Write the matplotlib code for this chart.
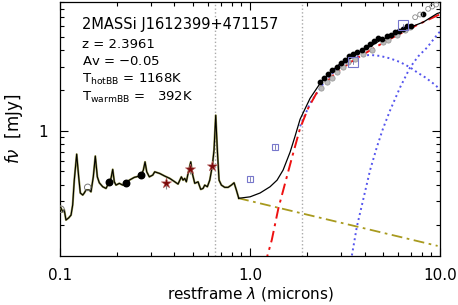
import matplotlib
matplotlib.use('Agg')
import matplotlib.pyplot as plt
import numpy as np

# template spectrum (restframe microns, mJy)
spec_wave = [0.100, 0.1012, 0.1033, 0.1053, 0.1075, 0.1111, 0.1143, 0.1166, 0.1189, 0.1224,
             0.1254, 0.1279, 0.1317, 0.1342, 0.1370, 0.1426, 0.1456, 0.1497, 0.1534, 0.1572,
             0.1610, 0.1678, 0.1746, 0.1818, 0.1856, 0.1894, 0.1931, 0.1971, 0.2051, 0.2138,
             0.2226, 0.2316, 0.2460, 0.2615, 0.2668, 0.2745, 0.2802, 0.2860, 0.2951, 0.3076,
             0.3150, 0.3347, 0.3556, 0.3779, 0.4016, 0.4179, 0.4350, 0.4440, 0.4532, 0.4621,
             0.4718, 0.4875, 0.4970, 0.5116, 0.5325, 0.5501, 0.5657, 0.5775, 0.5960, 0.6137,
             0.6331, 0.6462, 0.6597, 0.6727, 0.6868, 0.7064, 0.7358, 0.7660, 0.7974, 0.8236,
             0.8470, 0.8720]
spec_flux = [0.274, 0.268, 0.251, 0.259, 0.218, 0.226, 0.237, 0.282, 0.431, 0.672,
             0.456, 0.346, 0.334, 0.346, 0.364, 0.364, 0.353, 0.456, 0.650, 0.456,
             0.412, 0.385, 0.374, 0.419, 0.446, 0.518, 0.419, 0.396, 0.408, 0.396,
             0.412, 0.431, 0.452, 0.462, 0.467, 0.512, 0.589, 0.497, 0.456, 0.470,
             0.497, 0.483, 0.462, 0.444, 0.419, 0.403, 0.456, 0.431, 0.444, 0.419,
             0.483, 0.589, 0.483, 0.408, 0.419, 0.368, 0.374, 0.396, 0.385, 0.431,
             0.550, 0.720, 1.307, 0.720, 0.431, 0.396, 0.381, 0.381, 0.396, 0.412,
             0.364, 0.316]

# total model beyond the template
tot_wave = [0.8720, 1.0, 1.129, 1.274, 1.387, 1.492, 1.624, 1.725, 1.833, 2.069, 2.336,
            2.637, 2.977, 3.484, 3.933, 4.833, 5.939, 6.704, 8.138, 9.643, 10.0]
tot_flux = [0.316, 0.324, 0.346, 0.385, 0.431, 0.512, 0.696, 0.914, 1.221, 1.747, 2.256,
            2.722, 3.158, 3.637, 3.962, 4.697, 5.293, 5.765, 6.419, 7.445, 7.57]

# hot blackbody (reddened)
hot_wave = [1.185, 1.233, 1.301, 1.409, 1.528, 1.664, 1.833, 2.020, 2.279, 2.735, 3.360,
            4.129, 5.262, 6.158, 7.566, 9.643, 10.0]
hot_flux = [0.100, 0.118, 0.155, 0.266, 0.408, 0.639, 1.047, 1.473, 2.002, 2.586, 3.228,
            3.848, 4.697, 5.267, 6.12, 7.19, 7.35]

# hot blackbody (dotted)
bb1_wave = [1.833, 2.069, 2.393, 2.702, 2.977, 3.360, 3.793, 4.281, 4.833, 5.456, 6.158,
            6.952, 7.566, 8.341, 9.188, 10.0]
bb1_flux = [1.083, 1.604, 2.181, 2.676, 3.067, 3.456, 3.606, 3.668, 3.606, 3.456, 3.245,
            2.964, 2.722, 2.500, 2.256, 2.036]

# warm blackbody
bb2_wave = [3.36, 3.430, 3.644, 3.933, 4.281, 4.644, 5.012, 5.456, 6.158, 6.952, 7.659,
            8.543, 9.761, 10.0]
bb2_flux = [0.100, 0.118, 0.1935, 0.307, 0.512, 0.757, 1.047, 1.423, 2.107, 2.964, 3.575,
            4.169, 5.293, 5.477]

# power law
pl_wave = [0.865, 9.70]
pl_flux = [0.317, 0.140]

# photometry
sdss_wave = [0.1818, 0.2226, 0.2668]
sdss_flux = [0.419, 0.412, 0.467]
galex_wave = [0.1012, 0.1399]
galex_flux = [0.262, 0.381]
star_wave = [0.3626, 0.4816, 0.6331]
star_flux = [0.4076, 0.520, 0.5504]
star_err = [0.04, 0.045, 0.03]
sq_wave = [1.0, 1.354, 3.484, 6.387]
sq_flux = [0.439, 0.757, 3.23, 6.07]
sq_size = [4.5, 4.5, 7, 7]

irs_wave = [2.336, 2.452, 2.573, 2.702, 2.871, 3.012, 3.162, 3.319, 3.484, 3.658, 3.887,
            4.079, 4.281, 4.494, 4.718, 4.952, 5.262, 5.522, 5.797, 6.085, 6.387, 6.704,
            7.037, 8.138]
irs_flux = [2.307, 2.487, 2.662, 2.816, 2.980, 3.190, 3.380, 3.575, 3.744, 3.848, 4.009,
            4.191, 4.440, 4.642, 4.886, 4.836, 5.029, 5.116, 5.412, 5.505, 5.735, 5.966,
            6.067, 7.407]
irs2_wave = [2.356, 2.533, 2.692, 2.860, 3.098, 3.292, 3.570, 3.948, 4.369, 5.030, 5.344,
             5.917, 6.545, 6.952]
irs2_flux = [2.097, 2.307, 2.487, 2.735, 2.980, 3.245, 3.439, 3.700, 3.962, 4.563, 4.754,
             5.116, 5.571, 5.894]
open_wave = [7.386, 7.848, 8.648, 9.078, 9.526]
open_flux = [6.990, 7.318, 8.07, 8.39, 8.68]

lines = [0.6563, 1.875]

fig = plt.figure(figsize=(4.58, 3.05), dpi=100)
ax = fig.add_axes([0.131, 0.161, 0.830, 0.831])
ax.set_xscale('log')
ax.set_yscale('log')

for l in lines:
    ax.axvline(l, color='#aaaaaa', ls=':', lw=1.0, zorder=1)

ax.plot(pl_wave, pl_flux, color='#a89a1e', lw=1.3, dashes=(6, 2.5, 1.5, 2.5), zorder=2)
ax.plot(bb2_wave, bb2_flux, color='#5555ee', ls=':', lw=1.4, zorder=2)
ax.plot(bb1_wave, bb1_flux, color='#5555ee', ls=':', lw=1.4, zorder=2)
ax.plot(hot_wave, hot_flux, color='#ee1111', lw=1.4, dashes=(6, 2.5, 1.5, 2.5), zorder=3)
ax.plot(spec_wave, spec_flux, color='#9a9a50', lw=1.5, zorder=3)
ax.plot(spec_wave, spec_flux, color='black', lw=0.8, zorder=4)
ax.plot(tot_wave, tot_flux, color='black', lw=0.9, zorder=4)

ax.scatter(irs2_wave, irs2_flux, s=14, facecolor='#bbbbbb', edgecolor='#999999', lw=0.6, zorder=5)
ax.scatter(irs_wave, irs_flux, s=10, color='black', zorder=6)
ax.scatter(open_wave, open_flux, s=12, facecolor='none', edgecolor='#888888', lw=0.6, zorder=6)
ax.scatter(sdss_wave, sdss_flux, s=22, color='black', zorder=6)
ax.scatter(galex_wave, galex_flux, s=22, facecolor='none', edgecolor='#777777', lw=0.7, zorder=6)
ax.errorbar(star_wave, star_flux, yerr=star_err, fmt='none', ecolor='#888888', lw=0.8, zorder=6)
ax.scatter(star_wave, star_flux, s=60, marker='*', facecolor='#7a0a0a', edgecolor='#bb6666', lw=0.4, zorder=7)
for w, f, s in zip(sq_wave, sq_flux, sq_size):
    ax.plot(w, f, marker='s', ms=s, mfc='none', mec='#7777cc', mew=0.8, zorder=7)
    ax.plot([w, w], [f * 0.97, f * 1.03], color='#555599', lw=0.5, zorder=7)

ax.set_xlim(0.1, 10.0)
ax.set_ylim(0.118, 9.0)

ax.set_xticks([0.1, 1.0, 10.0])
ax.set_xticklabels(['0.1', '1.0', '10.0'])
ax.set_yticks([1.0])
ax.set_yticklabels(['1'])
ax.tick_params(which='both', direction='in', top=True, right=True, labelsize=11, width=0.8)
ax.tick_params(which='major', length=6, pad=9)
ax.tick_params(which='minor', length=3)
ax.tick_params(axis='y', which='minor', labelleft=False)
ax.tick_params(axis='x', which='minor', labelbottom=False)
for sp in ax.spines.values():
    sp.set_linewidth(0.9)

ax.set_xlabel(r'restframe $\lambda$ (microns)', fontsize=11, labelpad=1)
ax.set_ylabel(r'$f\nu$  [mJy]', fontsize=12, labelpad=9)

ax.text(0.058, 0.895, '2MASSi J1612399+471157', transform=ax.transAxes, fontsize=10.5)
info = ['z = 2.3961', 'Av = $-$0.05', r'T$_{\mathregular{hotBB}}$ = 1168K',
        r'T$_{\mathregular{warmBB}}$ =   392K']
for i, s in enumerate(info):
    ax.text(0.058, 0.822 - i * 0.07, s, transform=ax.transAxes, fontsize=9.5)

fig.savefig('out.png', dpi=100)
